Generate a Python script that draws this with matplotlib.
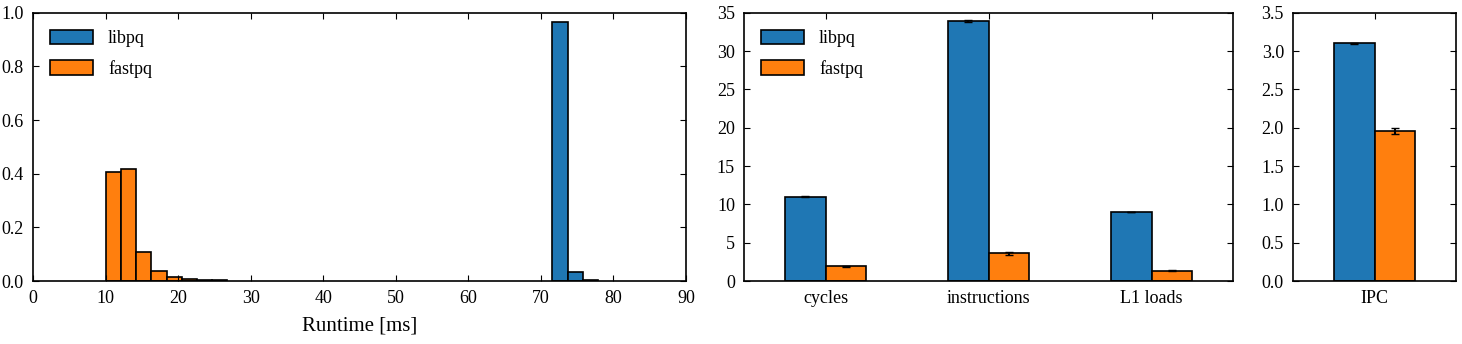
import matplotlib
matplotlib.use("Agg")
import matplotlib.pyplot as plt
import numpy as np

plt.rcParams['font.family'] = ['Liberation Serif', 'DejaVu Serif']
plt.rcParams['font.size'] = 13
plt.rcParams['xtick.direction'] = 'in'
plt.rcParams['ytick.direction'] = 'in'
plt.rcParams['xtick.top'] = True
plt.rcParams['ytick.right'] = True
plt.rcParams['xtick.major.size'] = 4.5
plt.rcParams['ytick.major.size'] = 4.5
plt.rcParams['xtick.major.pad'] = 6.5
plt.rcParams['ytick.major.pad'] = 6.5
plt.rcParams['axes.linewidth'] = 1.2

BLUE = '#1f77b4'
ORANGE = '#ff7f0e'

# Histogram data (fraction of runs per bin)
hist_bin_width = 2.1
libpq_bin_start = 71.6
libpq_hist = [0.965, 0.032, 0.003]
fastpq_bin_start = 10.0
fastpq_hist = [0.405, 0.418, 0.107, 0.037, 0.016, 0.006, 0.003, 0.002]

# Performance counters (billions)
counter_names = ['cycles', 'instructions', 'L1 loads']
libpq_counters = [11.0, 33.9, 9.0]
libpq_counters_err = [0.05, 0.1, 0.05]
fastpq_counters = [1.9, 3.6, 1.35]
fastpq_counters_err = [0.1, 0.15, 0.06]

ipc_names = ['IPC']
libpq_ipc = [3.1]
libpq_ipc_err = [0.01]
fastpq_ipc = [1.96]
fastpq_ipc_err = [0.04]

fig = plt.figure(figsize=(14.62, 3.44), dpi=100)
ax1 = fig.add_axes([33/1462, 63/344, 653/1462, 268.3/344])
ax2 = fig.add_axes([744/1462, 63/344, 489/1462, 268.3/344])
ax3 = fig.add_axes([1293/1462, 63/344, 163/1462, 268.3/344])

LW = 1.2

# Histogram
lib_edges = libpq_bin_start + hist_bin_width * np.arange(len(libpq_hist))
fast_edges = fastpq_bin_start + hist_bin_width * np.arange(len(fastpq_hist))
ax1.bar(lib_edges, libpq_hist, width=hist_bin_width, align='edge',
        color=BLUE, edgecolor='black', linewidth=LW, label='libpq')
ax1.bar(fast_edges, fastpq_hist, width=hist_bin_width, align='edge',
        color=ORANGE, edgecolor='black', linewidth=LW, label='fastpq')
ax1.set_xlim(0, 90)
ax1.set_ylim(0, 1.0)
ax1.set_xticks(np.arange(0, 91, 10))
ax1.set_yticks(np.arange(0, 1.01, 0.2))
ax1.set_yticklabels([f'{v:.1f}' for v in np.arange(0, 1.01, 0.2)])
ax1.set_xlabel('Runtime [ms]', fontsize=15, labelpad=7)

leg_kw = dict(loc='upper left', frameon=False, handlelength=2.4, handleheight=0.85,
              labelspacing=0.7, handletextpad=0.8, borderaxespad=0.55, fontsize=13)
ax1.legend(**leg_kw)

w = 0.25
x = np.arange(len(counter_names))
ax2.bar(x - w/2, libpq_counters, width=w, yerr=libpq_counters_err, color=BLUE,
        edgecolor='black', linewidth=LW, capsize=3, ecolor='black', label='libpq')
ax2.bar(x + w/2, fastpq_counters, width=w, yerr=fastpq_counters_err, color=ORANGE,
        edgecolor='black', linewidth=LW, capsize=3, ecolor='black', label='fastpq')
ax2.set_xlim(-0.5, len(counter_names) - 0.5)
ax2.set_ylim(0, 35)
ax2.set_yticks(np.arange(0, 36, 5))
ax2.set_xticks(x)
ax2.set_xticklabels(counter_names)
ax2.tick_params(axis='x', bottom=False)
ax2.legend(**leg_kw)

x3 = np.arange(len(ipc_names))
ax3.bar(x3 - w/2, libpq_ipc, width=w, yerr=libpq_ipc_err, color=BLUE,
        edgecolor='black', linewidth=LW, capsize=3, ecolor='black')
ax3.bar(x3 + w/2, fastpq_ipc, width=w, yerr=fastpq_ipc_err, color=ORANGE,
        edgecolor='black', linewidth=LW, capsize=3, ecolor='black')
ax3.set_xlim(-0.5, 0.5)
ax3.set_ylim(0, 3.5)
ax3.set_yticks(np.arange(0, 3.51, 0.5))
ax3.set_yticklabels([f'{v:.1f}' for v in np.arange(0, 3.51, 0.5)])
ax3.set_xticks(x3)
ax3.set_xticklabels(ipc_names)
ax3.tick_params(axis='x', bottom=False)

fig.savefig('out.png', dpi=100)
